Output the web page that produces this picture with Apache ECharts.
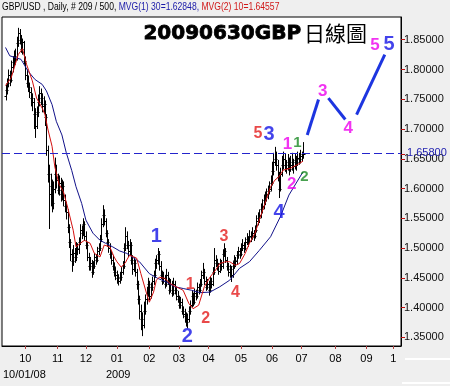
<!DOCTYPE html>
<html><head><meta charset="utf-8">
<script src="https://cdn.jsdelivr.net/npm/echarts@6/dist/echarts.min.js"></script>
<style>html,body{margin:0;padding:0;background:#efefef}#c{width:450px;height:386px}</style>
</head><body><div id="c"></div>
<script>
// ---------- data ----------
const slotCount = 283;          // trading-day slots on the time axis
const firstBarSlot = 1;         // slot of the first bar
// [open, high, low, close] per trading day, GBP/USD daily
const ohlcBars = [
[1.755,1.775,1.748,1.765],[1.765,1.785,1.758,1.778],[1.778,1.800,1.770,1.790],[1.790,1.798,1.772,1.782],
[1.782,1.815,1.778,1.805],[1.805,1.822,1.795,1.812],[1.812,1.832,1.805,1.823],[1.823,1.835,1.808,1.818],
[1.818,1.855,1.815,1.845],[1.845,1.870,1.838,1.862],[1.862,1.868,1.842,1.850],[1.850,1.858,1.828,1.835],
[1.835,1.852,1.825,1.846],[1.846,1.848,1.808,1.815],[1.815,1.822,1.782,1.790],[1.790,1.800,1.770,1.778],
[1.778,1.790,1.762,1.770],[1.770,1.778,1.752,1.762],[1.762,1.770,1.738,1.752],[1.752,1.760,1.730,1.745],
[1.745,1.752,1.700,1.725],[1.725,1.735,1.685,1.705],[1.705,1.738,1.700,1.728],[1.728,1.758,1.720,1.745],
[1.745,1.772,1.738,1.760],[1.760,1.768,1.740,1.752],[1.752,1.760,1.728,1.738],[1.738,1.755,1.725,1.742],
[1.742,1.748,1.705,1.720],[1.720,1.725,1.655,1.665],[1.665,1.672,1.610,1.625],[1.625,1.640,1.532,1.590],
[1.590,1.625,1.570,1.605],[1.605,1.615,1.560,1.575],[1.575,1.612,1.565,1.600],[1.600,1.652,1.592,1.625],
[1.625,1.640,1.600,1.615],[1.615,1.625,1.590,1.598],[1.598,1.622,1.588,1.610],[1.610,1.618,1.578,1.590],
[1.590,1.615,1.580,1.605],[1.605,1.612,1.570,1.580],[1.580,1.590,1.560,1.570],[1.570,1.578,1.548,1.560],
[1.560,1.565,1.525,1.535],[1.535,1.540,1.500,1.510],[1.510,1.515,1.478,1.490],[1.490,1.498,1.460,1.478],
[1.478,1.505,1.470,1.492],[1.492,1.500,1.475,1.485],[1.485,1.510,1.478,1.500],[1.500,1.508,1.488,1.498],
[1.498,1.518,1.490,1.510],[1.510,1.540,1.505,1.530],[1.530,1.538,1.515,1.525],[1.525,1.550,1.520,1.540],
[1.540,1.545,1.512,1.520],[1.520,1.528,1.498,1.505],[1.505,1.510,1.478,1.485],[1.485,1.492,1.462,1.470],
[1.470,1.485,1.462,1.475],[1.475,1.480,1.450,1.460],[1.460,1.478,1.455,1.470],[1.470,1.492,1.465,1.485],
[1.485,1.490,1.472,1.480],[1.480,1.502,1.476,1.495],[1.495,1.508,1.488,1.500],[1.500,1.522,1.495,1.515],
[1.515,1.550,1.510,1.540],[1.540,1.572,1.535,1.555],[1.555,1.565,1.538,1.545],[1.545,1.550,1.518,1.525],
[1.525,1.530,1.502,1.510],[1.510,1.515,1.492,1.500],[1.500,1.508,1.482,1.490],[1.490,1.495,1.472,1.480],
[1.480,1.488,1.462,1.470],[1.470,1.476,1.452,1.460],[1.460,1.468,1.446,1.455],[1.455,1.462,1.440,1.450],
[1.450,1.456,1.437,1.445],[1.445,1.460,1.440,1.452],[1.452,1.468,1.445,1.460],[1.460,1.478,1.455,1.470],
[1.470,1.508,1.465,1.500],[1.500,1.535,1.495,1.520],[1.520,1.528,1.498,1.505],[1.505,1.512,1.485,1.495],
[1.495,1.515,1.488,1.505],[1.505,1.510,1.472,1.480],[1.480,1.488,1.455,1.465],[1.465,1.485,1.460,1.475],
[1.475,1.480,1.452,1.460],[1.460,1.465,1.430,1.440],[1.440,1.445,1.405,1.415],[1.415,1.420,1.380,1.395],
[1.395,1.405,1.362,1.380],[1.380,1.392,1.352,1.370],[1.370,1.410,1.365,1.395],[1.395,1.422,1.388,1.415],
[1.415,1.435,1.405,1.425],[1.425,1.450,1.418,1.440],[1.440,1.445,1.412,1.420],[1.420,1.442,1.415,1.435],
[1.435,1.452,1.428,1.445],[1.445,1.462,1.438,1.455],[1.455,1.482,1.450,1.475],[1.475,1.488,1.465,1.480],
[1.480,1.500,1.472,1.490],[1.490,1.495,1.462,1.470],[1.470,1.478,1.448,1.455],[1.455,1.462,1.438,1.445],
[1.445,1.460,1.440,1.450],[1.450,1.455,1.432,1.440],[1.440,1.465,1.435,1.455],[1.455,1.460,1.438,1.445],
[1.445,1.450,1.422,1.430],[1.430,1.448,1.425,1.440],[1.440,1.445,1.418,1.425],[1.425,1.450,1.420,1.440],
[1.440,1.445,1.422,1.430],[1.430,1.435,1.412,1.420],[1.420,1.428,1.408,1.415],[1.415,1.420,1.398,1.405],
[1.405,1.418,1.398,1.410],[1.410,1.415,1.388,1.395],[1.395,1.402,1.382,1.390],[1.390,1.398,1.375,1.385],
[1.385,1.392,1.368,1.375],[1.375,1.390,1.365,1.380],[1.380,1.402,1.375,1.395],[1.395,1.412,1.388,1.405],
[1.405,1.428,1.400,1.420],[1.420,1.425,1.402,1.410],[1.410,1.432,1.405,1.425],[1.425,1.430,1.412,1.420],
[1.420,1.442,1.415,1.435],[1.435,1.440,1.422,1.430],[1.430,1.448,1.425,1.440],[1.440,1.462,1.435,1.455],
[1.455,1.475,1.448,1.460],[1.460,1.465,1.438,1.445],[1.445,1.452,1.428,1.435],[1.435,1.448,1.430,1.440],
[1.440,1.445,1.420,1.430],[1.430,1.452,1.425,1.445],[1.445,1.450,1.432,1.440],[1.440,1.468,1.436,1.460],
[1.460,1.500,1.455,1.480],[1.480,1.488,1.468,1.475],[1.475,1.482,1.462,1.470],[1.470,1.475,1.455,1.462],
[1.462,1.482,1.458,1.475],[1.475,1.480,1.462,1.470],[1.470,1.498,1.465,1.490],[1.490,1.508,1.485,1.495],
[1.495,1.500,1.475,1.480],[1.480,1.485,1.462,1.470],[1.470,1.475,1.452,1.460],[1.460,1.472,1.450,1.465],
[1.465,1.470,1.443,1.455],[1.455,1.478,1.450,1.470],[1.470,1.488,1.465,1.480],[1.480,1.485,1.468,1.478],
[1.478,1.495,1.472,1.488],[1.488,1.502,1.482,1.495],[1.495,1.500,1.482,1.490],[1.490,1.508,1.486,1.500],
[1.500,1.515,1.495,1.505],[1.505,1.510,1.492,1.500],[1.500,1.518,1.496,1.510],[1.510,1.525,1.505,1.515],
[1.515,1.520,1.502,1.512],[1.512,1.530,1.508,1.520],[1.520,1.528,1.510,1.518],[1.518,1.535,1.514,1.525],
[1.525,1.530,1.512,1.520],[1.520,1.538,1.516,1.530],[1.530,1.555,1.526,1.545],[1.545,1.560,1.538,1.550],
[1.550,1.565,1.542,1.555],[1.555,1.575,1.550,1.565],[1.565,1.582,1.558,1.570],[1.570,1.590,1.565,1.580],
[1.580,1.595,1.572,1.585],[1.585,1.600,1.578,1.590],[1.590,1.605,1.582,1.595],[1.595,1.612,1.590,1.600],
[1.600,1.622,1.595,1.610],[1.610,1.645,1.605,1.630],[1.630,1.660,1.622,1.645],[1.645,1.670,1.638,1.650],
[1.650,1.662,1.630,1.640],[1.640,1.648,1.612,1.620],[1.620,1.628,1.584,1.600],[1.600,1.635,1.595,1.625],
[1.625,1.655,1.620,1.640],[1.640,1.662,1.632,1.650],[1.650,1.658,1.628,1.640],[1.640,1.648,1.625,1.635],
[1.635,1.658,1.630,1.645],[1.645,1.652,1.622,1.632],[1.632,1.655,1.628,1.640],[1.640,1.660,1.630,1.645],
[1.645,1.650,1.625,1.638],[1.638,1.658,1.632,1.648],[1.648,1.655,1.630,1.645],[1.645,1.662,1.638,1.652],
[1.652,1.660,1.640,1.650],[1.650,1.665,1.642,1.655],[1.655,1.662,1.645,1.658],[1.658,1.678,1.650,1.658]
];
// moving averages: [slot, value]
const ma30Points = [[1,1.837],[4,1.823],[8,1.820],[12,1.817],[17,1.797],[22,1.783],[27,1.775],[30,1.764],[34,1.741],[37,1.713],[41,1.690],[44,1.661],[48,1.630],[51,1.603],[55,1.575],[58,1.547],[63,1.525],[68,1.513],[72,1.508],[77,1.502],[82,1.495],[87,1.491],[89,1.488],[96,1.477],[103,1.457],[109,1.449],[115,1.443],[121,1.435],[127,1.432],[133,1.429],[139,1.425],[146,1.426],[153,1.435],[160,1.446],[167,1.466],[174,1.477],[181,1.496],[189,1.519],[196,1.553],[202,1.589],[212,1.628]];
const ma10Points = [[1,1.773],[5,1.786],[10,1.825],[13,1.835],[16,1.808],[20,1.781],[23,1.752],[27,1.735],[29,1.724],[31,1.700],[34,1.671],[36,1.636],[39,1.607],[42,1.595],[45,1.569],[49,1.530],[51,1.502],[54,1.508],[57,1.513],[61,1.508],[64,1.491],[68,1.485],[71,1.505],[75,1.502],[78,1.485],[80,1.477],[83,1.468],[86,1.475],[87,1.480],[89,1.488],[90,1.485],[94,1.483],[97,1.457],[101,1.424],[103,1.409],[106,1.426],[108,1.446],[110,1.451],[114,1.449],[118,1.440],[122,1.435],[127,1.429],[131,1.407],[134,1.398],[138,1.404],[142,1.435],[146,1.451],[150,1.463],[153,1.474],[157,1.477],[160,1.477],[164,1.471],[167,1.474],[171,1.491],[174,1.508],[178,1.525],[181,1.547],[185,1.575],[189,1.603],[192,1.614],[195,1.620],[198,1.631],[203,1.634],[208,1.640],[212,1.646]];
// projected wave path segments: [slot, price]
const projectionSegments = [
  [[215,1.690],[223,1.7495]],
  [[230,1.752],[242,1.716]],
  [[250,1.724],[270,1.825]]
];
// wave count labels: [slot, price, text]
const blueWaves = [[108,1.520,'1'],[130,1.3517,'2'],[188,1.690,'3'],[195,1.5604,'4'],[273,1.8416,'5']];
const redWaves = [[132,1.4392,'1'],[143,1.382,'2'],[156,1.520,'3'],[164,1.4258,'4'],[180,1.6918,'5']];
const magentaWaves = [[201,1.6749,'1'],[204,1.6076,'2'],[226,1.7641,'3'],[244,1.7019,'4'],[263,1.8399,'5']];
const greenWaves = [[208,1.6766,'1'],[213,1.6194,'2']];
// axes
const monthTickSlots = [15,38,58,80,103,124,145,168,190,211,235,257,276];
const monthTickLabels = ['10','11','12','01','02','03','04','05','06','07','08','09','1'];
const priceTicks = [1.35,1.40,1.45,1.50,1.55,1.60,1.65,1.70,1.75,1.80,1.85];
const lastPrice = 1.658;
const priceMin = 1.3354, priceMax = 1.8882;
const headerParts = ['GBP/USD , Daily, # 209 / 500, ', 'MVG(1) 30=1.62848, ', 'MVG(2) 10=1.64557'];
const titleParts = ['20090630GBP', '日線圖'];
const startDateText = '10/01/08', yearText = '2009';

// ---------- build ----------
const SLOT_OFFSET = 1;
const cats = [];
for (let i = 0; i < slotCount; i++) cats.push(String(i));
const tickSet = new Set(monthTickSlots.map(s => s + SLOT_OFFSET));
const labelMap = {};
monthTickSlots.forEach((s, k) => { labelMap[s + SLOT_OFFSET] = monthTickLabels[k]; });
const barData = ohlcBars.map((b, i) => [firstBarSlot + i + SLOT_OFFSET, b[0], b[1], b[2], b[3]]);
const toCat = arr => arr.map(p => [p[0] + SLOT_OFFSET, p[1]]);
const waveSeries = (arr, color, size) => ({
  type: 'scatter', symbol: 'circle', symbolSize: 1, silent: true,
  itemStyle: { color: 'rgba(0,0,0,0)' },
  data: arr.map(w => ({ value: [w[0] + SLOT_OFFSET, w[1]], name: w[2] })),
  label: { show: true, position: 'inside', formatter: p => p.name, color: color,
    fontFamily: 'Liberation Sans', fontWeight: 'bold', fontSize: size },
  z: 10
});
const lineStyleBase = { type: 'line', showSymbol: false, symbol: 'none', silent: true, smooth: false };
const HF = 'Liberation Sans';

const chart = echarts.init(document.getElementById('c'), null, { renderer: 'canvas' });
chart.setOption({
  animation: false,
  backgroundColor: '#efefef',
  grid: { left: 2, right: 49, top: 17, bottom: 40, show: true, backgroundColor: '#ffffff',
          borderColor: '#000', borderWidth: 1, outerBoundsMode: 'none', containLabel: false },
  xAxis: {
    type: 'category', data: cats, boundaryGap: true,
    axisLine: { show: true, lineStyle: { color: '#000', width: 1 } },
    axisTick: { show: true, interval: (i) => tickSet.has(i), alignWithLabel: true, length: 3,
                lineStyle: { color: '#b04040' } },
    axisLabel: { show: true, interval: (i) => tickSet.has(i), formatter: v => labelMap[+v] || '',
                 color: '#000', fontFamily: 'Liberation Sans', fontSize: 11, margin: 7 },
    splitLine: { show: false }
  },
  yAxis: {
    type: 'value', position: 'right', min: priceMin, max: priceMax, scale: true,
    axisLine: { show: true, lineStyle: { color: '#000', width: 1 } },
    axisTick: { show: true, customValues: priceTicks.concat([lastPrice]), length: 4, lineStyle: { color: '#c01010' } },
    axisLabel: { show: true, customValues: priceTicks, margin: 3,
                 formatter: v => Number(v).toFixed(5),
                 color: '#111', fontFamily: 'Liberation Sans', fontSize: 11 },
    splitLine: { show: false }
  },
  series: [
    {
      type: 'custom', silent: true, clip: true,
      data: barData, encode: { x: 0, y: [1, 2, 3, 4] },
      renderItem: function (params, api) {
        const x = api.value(0);
        const o = api.coord([x, api.value(1)]);
        const h = api.coord([x, api.value(2)]);
        const l = api.coord([x, api.value(3)]);
        const c = api.coord([x, api.value(4)]);
        const cx = Math.round(o[0]) + 0.5;
        const st = { stroke: '#000', lineWidth: 1 };
        return { type: 'group', children: [
          { type: 'line', shape: { x1: cx, y1: h[1], x2: cx, y2: l[1] }, style: st },
          { type: 'line', shape: { x1: cx - 2, y1: Math.round(o[1]) + 0.5, x2: cx, y2: Math.round(o[1]) + 0.5 }, style: st },
          { type: 'line', shape: { x1: cx, y1: Math.round(c[1]) + 0.5, x2: cx + 2, y2: Math.round(c[1]) + 0.5 }, style: st }
        ] };
      },
      markLine: { silent: true, symbol: 'none',
        label: { show: true, position: 'end', distance: 6, formatter: () => lastPrice.toFixed(5),
                 color: '#2222b0', fontFamily: 'Liberation Sans', fontSize: 11 },
        lineStyle: { type: [8, 4], color: '#2424cc', width: 1 }, data: [{ yAxis: lastPrice }] },
      z: 2
    },
    Object.assign({}, lineStyleBase, { data: toCat(ma30Points), lineStyle: { color: '#12128a', width: 1 }, z: 3 }),
    Object.assign({}, lineStyleBase, { data: toCat(ma10Points), lineStyle: { color: '#d41010', width: 1 }, z: 4 }),
    ...projectionSegments.map(seg => Object.assign({}, lineStyleBase, {
      data: toCat(seg), lineStyle: { color: '#1d35e0', width: 3 }, z: 5 })),
    waveSeries(blueWaves, '#1414e6', 20),
    waveSeries(redWaves, '#e41c1c', 16),
    waveSeries(magentaWaves, '#ee00ee', 17),
    waveSeries(greenWaves, '#1a8a24', 15)
  ],
  graphic: [
    { type: 'text', x: 2, y: 1, scaleX: 0.78, scaleY: 1, silent: true,
      style: { text: '{k|' + headerParts[0] + '}{b|' + headerParts[1] + '}{r|' + headerParts[2] + '}',
        fontFamily: HF, fontSize: 11,
        rich: { k: { fill: '#000', fontSize: 11, fontFamily: HF },
                b: { fill: '#1a1aa8', fontSize: 11, fontFamily: HF },
                r: { fill: '#d01818', fontSize: 11, fontFamily: HF } } } },
    { type: 'text', left: 143, top: 23, silent: true,
      style: { text: '{a|' + titleParts[0] + '}{c|' + titleParts[1] + '}',
        rich: { a: { fill: '#000', stroke: '#000', lineWidth: 0.8, fontFamily: 'DejaVu Sans', fontWeight: 'bold', fontSize: 20, verticalAlign: 'bottom' },
                c: { fill: '#000', fontFamily: 'Noto Sans CJK TC', fontSize: 21, padding: [0, 0, 0, 3], verticalAlign: 'bottom' } } } },
    { type: 'text', left: 3, top: 369, silent: true,
      style: { text: startDateText, fill: '#000', fontFamily: 'Liberation Sans', fontSize: 11 } },
    { type: 'text', left: 106, top: 369, silent: true,
      style: { text: yearText, fill: '#000', fontFamily: 'Liberation Sans', fontSize: 11 } },
    { type: 'line', silent: true, shape: { x1: 405, y1: 359, x2: 450, y2: 359 }, style: { stroke: '#ffffff', lineWidth: 2 } },
    { type: 'line', silent: true, shape: { x1: 402, y1: 383, x2: 450, y2: 383 }, style: { stroke: '#ffffff', lineWidth: 2 } }
  ]
});
</script>
</body></html>
